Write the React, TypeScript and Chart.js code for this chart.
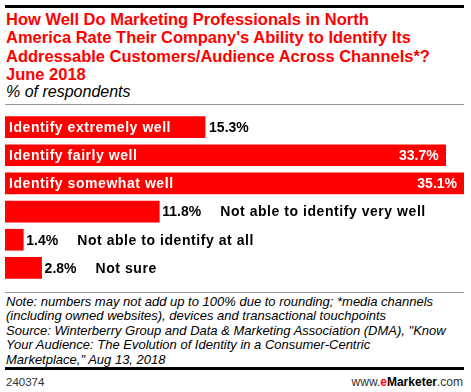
import React, { useEffect, useRef } from "react";
import { Chart, registerables } from "chart.js";

Chart.register(...registerables);

const categories = [
  "Identify extremely well",
  "Identify fairly well",
  "Identify somewhat well",
  "Not able to identify very well",
  "Not able to identify at all",
  "Not sure",
];
const values = [15.3, 33.7, 35.1, 11.8, 1.4, 2.8];
const valueLabels = ["15.3%", "33.7%", "35.1%", "11.8%", "1.4%", "2.8%"];

const titleLines = [
  "How Well Do Marketing Professionals in North",
  "America Rate Their Company's Ability to Identify Its",
  "Addressable Customers/Audience Across Channels*?",
  "June 2018",
];
const subtitle = "% of respondents";
const noteLines = [
  "Note: numbers may not add up to 100% due to rounding; *media channels",
  "(including owned websites), devices and transactional touchpoints",
  "Source: Winterberry Group and Data & Marketing Association (DMA), \"Know",
  "Your Audience: The Evolution of Identity in a Consumer-Centric",
  "Marketplace,\" Aug 13, 2018",
];
const chartId = "240374";

const RED = "#ff0000";
const FONT = "Arial, 'Liberation Sans', sans-serif";
const CAT_SPACING = 0.55;

function spacedWidth(ctx: CanvasRenderingContext2D, s: string) {
  return ctx.measureText(s).width + CAT_SPACING * (s.length - 1);
}
function drawSpaced(ctx: CanvasRenderingContext2D, s: string, x: number, y: number) {
  ctx.textAlign = "left";
  for (let i = 0; i < s.length; i++) {
    const off = ctx.measureText(s.slice(0, i)).width + CAT_SPACING * i;
    ctx.fillText(s[i], x + off, y);
  }
}

const labelPlugin = {
  id: "barLabels",
  afterDatasetsDraw(chart: any) {
    const ctx = chart.ctx as CanvasRenderingContext2D;
    const meta = chart.getDatasetMeta(0);
    ctx.save();
    ctx.font = `bold 14px ${FONT}`;
    ctx.textBaseline = "middle";
    meta.data.forEach((bar: any, i: number) => {
      const x = bar.x;
      const y = bar.y + 1;
      const base = bar.base;
      const w = x - base;
      const cat = categories[i];
      const val = valueLabels[i];
      const cw = spacedWidth(ctx, cat);
      const vw = ctx.measureText(val).width;
      const catInside = cw + 10 < w;
      if (catInside) {
        ctx.fillStyle = "#fff";
        drawSpaced(ctx, cat, base + 4, y);
        if (cw + vw + 24 < w) {
          ctx.textAlign = "right";
          ctx.fillText(val, x - 7, y);
        } else {
          ctx.fillStyle = "#000";
          ctx.textAlign = "left";
          ctx.fillText(val, x + 4, y);
        }
      } else {
        ctx.fillStyle = "#000";
        ctx.textAlign = "left";
        ctx.fillText(val, x + 3, y);
        drawSpaced(ctx, cat, x + 3 + vw + 19, y);
      }
    });
    ctx.restore();
  },
};

export default function App() {
  const ref = useRef<HTMLCanvasElement | null>(null);
  useEffect(() => {
    if (!ref.current) return;
    const chart = new Chart(ref.current, {
      type: "bar",
      data: {
        labels: categories,
        datasets: [
          {
            data: values,
            backgroundColor: RED,
            borderWidth: 0,
            barThickness: 21,
          },
        ],
      },
      options: {
        indexAxis: "y",
        animation: false,
        responsive: false,
        maintainAspectRatio: false,
        layout: { padding: 0 },
        plugins: { legend: { display: false }, tooltip: { enabled: false } },
        scales: {
          x: { display: false, min: 0, max: 35.1 },
          y: { display: false },
        },
      },
      plugins: [labelPlugin],
    });
    return () => chart.destroy();
  }, []);

  const abs = (s: React.CSSProperties): React.CSSProperties => ({ position: "absolute", ...s });

  return (
    <div style={{ position: "fixed", left: 0, top: 0, width: 471, height: 392, background: "#fff", fontFamily: FONT, overflow: "hidden" }}>
      <div style={abs({ left: 5, top: 5, width: 459, height: 2.5, background: "#000" })} />
      <div style={abs({ left: 6, top: 10, color: RED, fontWeight: "bold", fontSize: 16.5, lineHeight: "18.3px", whiteSpace: "nowrap" })}>
        {titleLines.map((l, i) => (
          <div key={i}>{l}</div>
        ))}
      </div>
      <div style={abs({ left: 6, top: 82, fontStyle: "italic", fontSize: 16, lineHeight: "19px", color: "#000", whiteSpace: "nowrap" })}>{subtitle}</div>
      <div style={abs({ left: 5, top: 104, width: 459, height: 1, background: "#999" })} />
      <canvas ref={ref} width={459} height={169} style={abs({ left: 5, top: 113, width: 459, height: 169 })} />
      <div style={abs({ left: 5, top: 292, width: 459, height: 1, background: "#999" })} />
      <div style={abs({ left: 6, top: 295, fontStyle: "italic", fontSize: 13, lineHeight: "14.4px", color: "#000", whiteSpace: "nowrap" })}>
        {noteLines.map((l, i) => (
          <div key={i}>{l}</div>
        ))}
      </div>
      <div style={abs({ left: 5, top: 367, width: 459, height: 3, background: "#000" })} />
      <div style={abs({ left: 6, top: 375, fontSize: 11.5, lineHeight: "14px", color: "#333" })}>{chartId}</div>
      <div style={abs({ right: 8, top: 375, fontSize: 12, lineHeight: "14px", color: "#333" })}>
        www.<span style={{ color: RED, fontWeight: "bold" }}>e</span>
        <span style={{ fontWeight: "bold", color: "#000" }}>Marketer</span>.com
      </div>
    </div>
  );
}
